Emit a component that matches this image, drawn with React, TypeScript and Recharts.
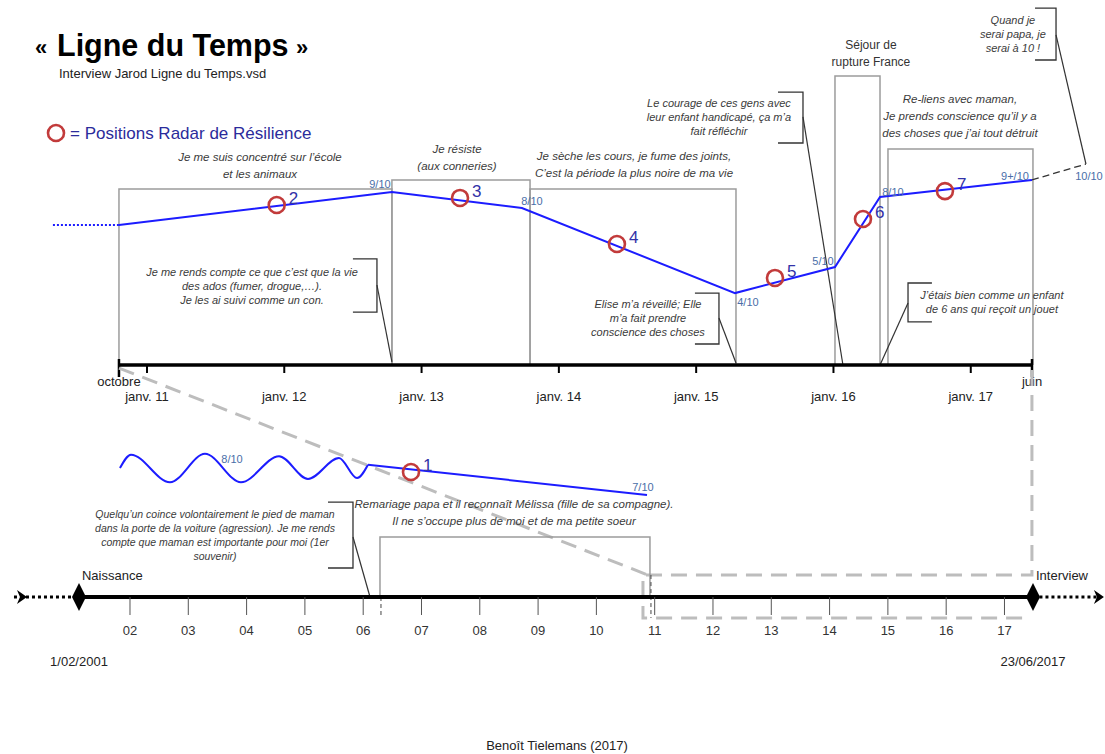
import React from "react";
import { ComposedChart, Line, Scatter, XAxis, YAxis } from "recharts";

const BLUE = "#1c1cff";
const RED = "#c23b3b";
const BOX = "#9c9c9c";
const INK = "#3b3b3b";
const SCORE = "#4a6ea8";
const NUM = "#3232a8";
const ZOOM = "#bdbdbd";
const FONT = "'Liberation Sans', Arial, sans-serif";

// upper timeline: t = year, s = level (0 = axis)
const upperTicks = [2010.796, 2011, 2012, 2013, 2014, 2015, 2016, 2017, 2017.446];
const upperTickLabels = ["octobre", "janv. 11", "janv. 12", "janv. 13", "janv. 14", "janv. 15", "janv. 16", "janv. 17", "juin"];

const pathTimes = [2010.796, 2012.784, 2013.731, 2015.283, 2016.011, 2016.339, 2017.446];
const pathLevels = [6.93, 8.56, 7.77, 3.56, 4.85, 8.32, 9.16];
const leadIn = [{ t: 2010.315, s: 6.93 }, { t: 2010.796, s: 6.93 }];
const projection = [{ t: 2017.446, s: 9.16 }, { t: 2017.839, s: 9.95 }];

const radarIds = ["2", "3", "4", "5", "6", "7"];
const radarTimes = [2011.945, 2013.28, 2014.423, 2015.574, 2016.215, 2016.812];
const radarLevels = [7.92, 8.27, 5.99, 4.31, 7.23, 8.61];

const scoreTexts = ["9/10", "8/10", "4/10", "5/10", "8/10", "9+/10", "10/10"];
const scoreTimes = [2012.697, 2013.804, 2015.377, 2015.924, 2016.433, 2017.322, 2017.861];
const scoreLevels = [8.96, 8.12, 3.12, 5.15, 8.56, 9.36, 9.36];

const boxStarts = [2010.796, 2012.784, 2013.79, 2016.011, 2016.397];
const boxEnds = [2012.784, 2013.79, 2015.29, 2016.339, 2017.453];
const boxTops = [8.71, 9.16, 8.71, 14.31, 10.69];

const bracketEdges = [2012.5, 2014.991, 2015.596, 2016.717, 2017.468];
const bracketSpines = [2012.675, 2015.166, 2015.778, 2016.543, 2017.621];
const bracketTops = [5.25, 3.56, 13.51, 4.06, 17.67];
const bracketBottoms = [2.62, 1.04, 10.99, 2.13, 15.1];
const leaderFrom = [3.96, 2.33, 12.28, 3.07, 16.34];
const leaderToTimes = [2012.784, 2015.29, 2016.069, 2016.339, 2017.839];
const leaderToLevels = [0.15, 0.1, 0, 0, 9.95];

const headNotes = [
  { t: 2011.823, s: 10.3, lines: ["Je me suis concentré sur l’école", "et les animaux"] },
  { t: 2013.258, s: 10.69, lines: ["Je résiste", "(aux conneries)"] },
  { t: 2014.547, s: 10.35, lines: ["Je sèche les cours, je fume des joints,", "C’est la période la plus noire de ma vie"] },
  { t: 2016.921, s: 13.17, lines: ["Re-liens avec maman,", "Je prends conscience qu’il y a", "des choses que j’ai tout détruit"] },
];
const calloutNotes = [
  { t: 2015.166, s: 12.97, lines: ["Le courage de ces gens avec", "leur enfant handicapé, ça m’a", "fait réfléchir"] },
  { t: 2017.307, s: 17.08, lines: ["Quand je", "serai papa, je", "serai à 10 !"] },
  { t: 2011.765, s: 4.6, lines: ["Je me rends compte ce que c’est que la vie", "des ados (fumer, drogue,…).", "Je les ai suivi comme un con."] },
  { t: 2014.649, s: 3.02, lines: ["Elise m’a réveillé; Elle", "m’a fait prendre", "conscience des choses"] },
  { t: 2017.154, s: 3.47, lines: ["J’étais bien comme un enfant", "de 6 ans qui reçoit un jouet"] },
];
const plainNotes = [{ t: 2016.273, s: 15.84, lines: ["Séjour de", "rupture France"] }];

// lower timeline: birth -> interview
const lowerYears = [2002, 2003, 2004, 2005, 2006, 2007, 2008, 2009, 2010, 2011, 2012, 2013, 2014, 2015, 2016, 2017];
const lowerYearLabels = ["02", "03", "04", "05", "06", "07", "08", "09", "10", "11", "12", "13", "14", "15", "16", "17"];
const markerTimes = [2001.125, 2017.489];
const markerNames = ["Naissance", "Interview"];
const markerDates = ["1/02/2001", "23/06/2017"];
const arrowTimes = [2000.233, 2018.706];

const waveTimes = [2001.828, 2002.017, 2002.686, 2003.286, 2003.904, 2004.556, 2005.053, 2005.585, 2005.894, 2006.082];
const waveLevels = [7.7, 8.5, 6.85, 8.55, 6.85, 8.4, 7.05, 8.3, 7.1, 7.9];
const earlyPath = [{ t: 2006.082, s: 7.9 }, { t: 2010.868, s: 6.09 }];
const earlyRadar = [{ t: 2006.82, s: 7.46, id: "1" }];
const earlyScores = [
  { t: 2003.75, s: 8.24, text: "8/10" },
  { t: 2010.799, s: 6.57, text: "7/10" },
];
const lowerCallout = [{ t: 2003.458, s: 4.955, lines: ["Quelqu’un coince volontairement le pied de maman", "dans la porte de la voiture (agression). Je me rends", "compte que maman est importante pour moi (1er", "souvenir)"] }];
const lowerHead = [{ t: 2008.587, s: 5.55, lines: ["Remariage papa et il reconnaît Mélissa (fille de sa compagne).", "Il ne s’occupe plus de moi et de ma petite soeur"] }];
const remariageBox = [{ t: 2006.288, s: 0 }, { t: 2006.288, s: 3.58 }, { t: 2010.919, s: 3.58 }, { t: 2010.919, s: 0 }];
const lowerBracket = [{ t: 2005.396, s: 5.67 }, { t: 2005.825, s: 5.67 }, { t: 2005.825, s: 1.73 }, { t: 2005.396, s: 1.73 }];
const lowerLeader = [{ t: 2005.825, s: 3.58 }, { t: 2006.117, s: 0 }];
const thinDashes = [
  [{ t: 2006.305, s: 0 }, { t: 2006.305, s: -1.25 }],
  [{ t: 2010.936, s: 1.31 }, { t: 2010.936, s: -1.25 }],
];
const zoomDiagonal = [{ t: 2001.811, s: 13.67 }, { t: 2010.885, s: 1.31 }];
const zoomFrame = [
  { t: 2017.471, s: 13.55 },
  { t: 2017.471, s: 1.31 },
  { t: 2010.799, s: 1.31 },
  { t: 2010.799, s: -1.25 },
  { t: 2017.386, s: -1.25 },
];

const path = pathTimes.map((t, i) => ({ t, s: pathLevels[i] }));
const radar = radarIds.map((id, i) => ({ t: radarTimes[i], s: radarLevels[i], id }));
const scores = scoreTexts.map((text, i) => ({ t: scoreTimes[i], s: scoreLevels[i], text }));
const boxes = boxStarts.map((a, i) => [
  { t: a, s: 0 },
  { t: a, s: boxTops[i] },
  { t: boxEnds[i], s: boxTops[i] },
  { t: boxEnds[i], s: 0 },
]);
const brackets = bracketEdges.map((e, i) => [
  { t: e, s: bracketTops[i] },
  { t: bracketSpines[i], s: bracketTops[i] },
  { t: bracketSpines[i], s: bracketBottoms[i] },
  { t: e, s: bracketBottoms[i] },
]);
const leaders = bracketSpines.map((sp, i) => [
  { t: sp, s: leaderFrom[i] },
  { t: leaderToTimes[i], s: leaderToLevels[i] },
]);
const wave = waveTimes.map((t, i) => ({ t, s: waveLevels[i] }));
const yearMarks = lowerYears.map((t, i) => ({ t, s: 0, label: lowerYearLabels[i] }));
const markers = markerTimes.map((t, i) => ({ t, s: 0, name: markerNames[i], date: markerDates[i] }));
const arrows = arrowTimes.map((t) => ({ t, s: 0 }));

const noteShape = (size: number, lh: number, italic: boolean, color: string) => (p: any) => {
  const { cx, cy, payload } = p;
  return (
    <text
      fontFamily={FONT}
      fontSize={size}
      fontStyle={italic ? "italic" : "normal"}
      fill={color}
      textAnchor="middle"
    >
      {payload.lines.map((l: string, i: number) => (
        <tspan key={i} x={cx} y={cy + i * lh + size * 0.36}>
          {l}
        </tspan>
      ))}
    </text>
  );
};

const scoreShape = (p: any) => (
  <text x={p.cx} y={p.cy + 4} textAnchor="middle" fontFamily={FONT} fontSize={11} fill={SCORE}>
    {p.payload.text}
  </text>
);

const radarShape = (p: any) => (
  <g>
    <circle cx={p.cx} cy={p.cy} r={8} fill="none" stroke={RED} strokeWidth={2.6} />
    <text x={p.cx + 12} y={p.cy - 1} fontFamily={FONT} fontSize={17} fill={NUM}>
      {p.payload.id}
    </text>
  </g>
);

const yearShape = (p: any) => (
  <g>
    <line x1={p.cx} x2={p.cx} y1={p.cy} y2={p.cy + 18} stroke="#555" strokeWidth={1} />
    <text x={p.cx} y={p.cy + 38} textAnchor="middle" fontFamily={FONT} fontSize={13} fill="#333">
      {p.payload.label}
    </text>
  </g>
);

const markerShape = (p: any) => (
  <g>
    <polygon
      points={`${p.cx},${p.cy - 14} ${p.cx + 7},${p.cy} ${p.cx},${p.cy + 14} ${p.cx - 7},${p.cy}`}
      fill="#000"
    />
    <text x={p.cx + 3} y={p.cy - 17} fontFamily={FONT} fontSize={13} fill="#222">
      {p.payload.name}
    </text>
    <text x={p.cx} y={p.cy + 69} textAnchor="middle" fontFamily={FONT} fontSize={13} fill="#222">
      {p.payload.date}
    </text>
  </g>
);

const arrowShape = (p: any) => (
  <polygon points={`${p.cx},${p.cy} ${p.cx - 10},${p.cy - 7} ${p.cx - 7},${p.cy} ${p.cx - 10},${p.cy + 7}`} fill="#000" />
);

function UpperTick(props: any) {
  const { x, y, payload } = props;
  const i = upperTicks.findIndex((v) => Math.abs(v - payload.value) < 1e-6);
  const edge = i === 0 || i === upperTicks.length - 1;
  if (edge) {
    return (
      <g>
        <line x1={x} x2={x} y1={y - 6} y2={y + 12} stroke="#000" strokeWidth={2.5} />
        <text x={x} y={y + 21} textAnchor="middle" fontFamily={FONT} fontSize={13} fill="#222">
          {upperTickLabels[i]}
        </text>
      </g>
    );
  }
  return (
    <g>
      <line x1={x} x2={x} y1={y} y2={y + 8} stroke="#000" strokeWidth={2} />
      <text x={x} y={y + 36} textAnchor="middle" fontFamily={FONT} fontSize={13} fill="#222">
        {upperTickLabels[i]}
      </text>
    </g>
  );
}

const stroke = (key: string, data: any[], color: string, width: number, dash?: string, type: any = "linear") => (
  <Line
    key={key}
    data={data}
    dataKey="s"
    type={type}
    stroke={color}
    strokeWidth={width}
    strokeDasharray={dash}
    dot={false}
    activeDot={false}
    isAnimationActive={false}
  />
);

export default function App() {
  return (
    <div
      style={{
        position: "absolute",
        left: 0,
        top: 0,
        width: 1105,
        height: 754,
        overflow: "hidden",
        background: "#fff",
      }}
    >
      <svg width={1105} height={754} style={{ position: "absolute", left: 0, top: 0 }}>
        <text x={35} y={55} fontFamily={FONT} fontSize={22} fontWeight="bold" fill="#000">«</text>
        <text x={57} y={56} fontFamily={FONT} fontSize={30.5} fontWeight="bold" fill="#000">Ligne du Temps</text>
        <text x={296} y={55} fontFamily={FONT} fontSize={22} fontWeight="bold" fill="#000">»</text>
        <text x={59} y={78} fontFamily={FONT} fontSize={13} fill="#222">
          Interview Jarod Ligne du Temps.vsd
        </text>
        <circle cx={56} cy={133} r={8} fill="none" stroke={RED} strokeWidth={2.6} />
        <text x={70} y={139} fontFamily={FONT} fontSize={17} fill="#2b2b9b">
          = Positions Radar de Résilience
        </text>
        <text x={557} y={750} textAnchor="middle" fontFamily={FONT} fontSize={13} fill="#222">
          Benoît Tielemans (2017)
        </text>
      </svg>

      <div style={{ position: "absolute", left: 0, top: 0 }}>
        <ComposedChart width={1110} height={420} margin={{ top: 1.4, right: 8.8, bottom: 15, left: 44 }}>
          <XAxis
            type="number"
            dataKey="t"
            domain={[2010.25, 2017.95]}
            ticks={upperTicks}
            interval={0}
            tick={(p: any) => <UpperTick {...p} />}
            tickLine={false}
            axisLine={false}
            tickSize={0}
            tickMargin={0}
            height={40}
          />
          <YAxis type="number" domain={[0, 18]} hide />
          {boxes.map((b, i) => stroke("box" + i, b, BOX, 1.5))}
          {brackets.map((b, i) => stroke("br" + i, b, "#333", 1.3))}
          {leaders.map((b, i) => stroke("ld" + i, b, "#333", 1.2))}
          {stroke("axis", [{ t: 2010.796, s: 0 }, { t: 2017.446, s: 0 }], "#000", 3.5)}
          {stroke("lead", leadIn, BLUE, 2, "2 2")}
          {stroke("proj", projection, "#333", 1.3, "7 4")}
          {stroke("path", path, BLUE, 2)}
          <Scatter data={radar} dataKey="s" shape={radarShape} isAnimationActive={false} />
          <Scatter data={scores} dataKey="s" shape={scoreShape} isAnimationActive={false} />
          <Scatter data={headNotes} dataKey="s" shape={noteShape(11.5, 17, true, INK)} isAnimationActive={false} />
          <Scatter data={calloutNotes} dataKey="s" shape={noteShape(11, 14, true, INK)} isAnimationActive={false} />
          <Scatter data={plainNotes} dataKey="s" shape={noteShape(12, 17, false, "#333")} isAnimationActive={false} />
        </ComposedChart>
      </div>

      <div style={{ position: "absolute", left: 0, top: 0 }}>
        <ComposedChart width={1110} height={754} margin={{ top: 362.5, right: 3.5, bottom: 90, left: 13.4 }}>
          <XAxis type="number" dataKey="t" domain={[2000, 2018.75]} hide />
          <YAxis type="number" domain={[-4, 14]} hide />
          {stroke("zd", zoomDiagonal, ZOOM, 3, "16 9")}
          {stroke("zf", zoomFrame, ZOOM, 3, "16 9")}
          {stroke("rbox", remariageBox, BOX, 1.5)}
          {thinDashes.map((d, i) => stroke("td" + i, d, "#444", 1, "4 3"))}
          {stroke("lbr", lowerBracket, "#333", 1.3)}
          {stroke("lld", lowerLeader, "#333", 1.2)}
          {stroke("ldotL", [{ t: 2000.01, s: 0 }, { t: 2001.0, s: 0 }], "#000", 3, "3 3")}
          {stroke("ldotR", [{ t: 2017.6, s: 0 }, { t: 2018.6, s: 0 }], "#000", 3, "3 3")}
          {stroke("laxis", [{ t: markerTimes[0], s: 0 }, { t: markerTimes[1], s: 0 }], "#000", 4)}
          {stroke("wave", wave, BLUE, 2, undefined, "monotone")}
          {stroke("early", earlyPath, BLUE, 2)}
          <Scatter data={yearMarks} dataKey="s" shape={yearShape} isAnimationActive={false} />
          <Scatter data={markers} dataKey="s" shape={markerShape} isAnimationActive={false} />
          <Scatter data={arrows} dataKey="s" shape={arrowShape} isAnimationActive={false} />
          <Scatter data={earlyRadar} dataKey="s" shape={radarShape} isAnimationActive={false} />
          <Scatter data={earlyScores} dataKey="s" shape={scoreShape} isAnimationActive={false} />
          <Scatter data={lowerCallout} dataKey="s" shape={noteShape(10.5, 14, true, INK)} isAnimationActive={false} />
          <Scatter data={lowerHead} dataKey="s" shape={noteShape(11.5, 17, true, INK)} isAnimationActive={false} />
        </ComposedChart>
      </div>
    </div>
  );
}
